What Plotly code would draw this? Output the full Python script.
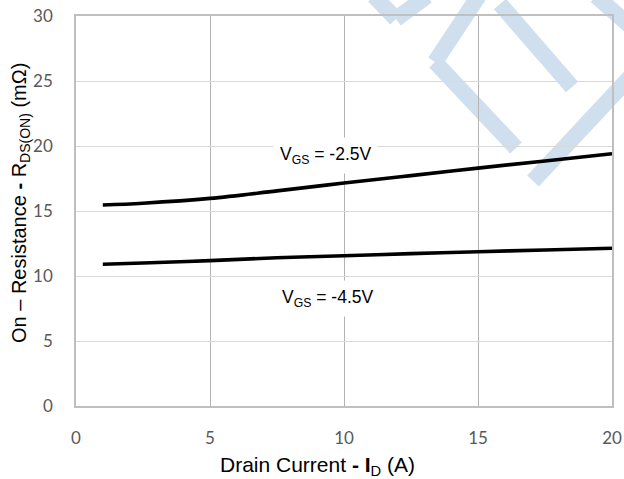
import plotly.graph_objects as go

# ---- data ----
drain_current = [1, 2.5, 5, 7.5, 10, 12.5, 15, 17.5, 20]
rds_vgs_25 = [15.46, 15.6, 15.97, 16.55, 17.15, 17.72, 18.3, 18.85, 19.4]
rds_vgs_45 = [10.9, 11.0, 11.18, 11.4, 11.56, 11.72, 11.87, 12.0, 12.13]
x_ticks = [0, 5, 10, 15, 20]
y_ticks = [0, 5, 10, 15, 20, 25, 30]

W, H = 624, 479
ML, MR, MT, MB = 76, 12, 16, 73
PW, PH = W - ML - MR, H - MT - MB


def px(xp, yp):
    return (xp - ML) / PW, (H - MB - yp) / PH


fig = go.Figure()
fig.add_trace(go.Scatter(x=drain_current, y=rds_vgs_25, mode="lines",
                         line=dict(color="black", width=3.6, shape="spline"),
                         showlegend=False, hoverinfo="skip"))
fig.add_trace(go.Scatter(x=drain_current, y=rds_vgs_45, mode="lines",
                         line=dict(color="black", width=3.6, shape="spline"),
                         showlegend=False, hoverinfo="skip"))

# faint watermark decoration
wm_color = "rgb(207,223,238)"
wm_paths = [
    [(374, -4), (396, 19), (427, -4)],
    [(480, -6), (435, 62), (516, 148)],
    [(500, 4), (572, 87)],
    [(596, -4), (630, 26)],
    [(632, 75), (533, 181)],
]
shapes = []
for path in wm_paths:
    for (x0, y0), (x1, y1) in zip(path[:-1], path[1:]):
        a0, b0 = px(x0, y0)
        a1, b1 = px(x1, y1)
        shapes.append(dict(type="line", xref="paper", yref="paper",
                           x0=a0, y0=b0, x1=a1, y1=b1, layer="below",
                           line=dict(color=wm_color, width=16)))

ann_font = dict(family="Liberation Sans, Arial, sans-serif", size=17.5, color="black")
title_font = dict(family="Liberation Sans, Arial, sans-serif", size=20, color="black")
xtitle_font = dict(family="Liberation Sans, Arial, sans-serif", size=21, color="black")
annotations = [
    dict(x=9.3, y=19.3, xref="x", yref="y", text="V<sub>GS</sub> = -2.5V",
         showarrow=False, bgcolor="white", borderpad=6, font=ann_font),
    dict(x=9.4, y=8.3, xref="x", yref="y", text="V<sub>GS</sub> = -4.5V",
         showarrow=False, bgcolor="white", borderpad=6, font=ann_font),
    dict(x=px(317, 0)[0], y=px(0, 466)[1], xref="paper", yref="paper",
         text="Drain Current <b>- I</b><sub>D</sub> (A)", showarrow=False,
         yanchor="middle", xanchor="center", font=xtitle_font),
    dict(x=px(21, 0)[0], y=px(0, 203)[1], xref="paper", yref="paper",
         text="On – Resistance <b>-</b> R<sub>DS(ON)</sub> (mΩ)", showarrow=False,
         textangle=-90, yanchor="middle", xanchor="center", font=title_font),
]

tick_font = dict(family="Lato, Open Sans, sans-serif", size=17, color="#595959")
fig.update_layout(
    width=W, height=H,
    margin=dict(l=ML, r=MR, t=MT, b=MB, autoexpand=False),
    paper_bgcolor="white", plot_bgcolor="rgba(0,0,0,0)",
    shapes=shapes, annotations=annotations,
    xaxis=dict(range=[0, 20], tickvals=x_ticks, showgrid=True, gridcolor="#b3b3b3",
               gridwidth=1.3, zeroline=False, showline=True, linecolor="#bfbfbf",
               linewidth=1.5, mirror=True, ticks="", tickfont=tick_font,
               ticklabelstandoff=16, fixedrange=True, automargin=False),
    yaxis=dict(range=[0, 30], tickvals=y_ticks, showgrid=True, gridcolor="#d9d9d9",
               gridwidth=1.3, zeroline=False, showline=True, linecolor="#bfbfbf",
               linewidth=1.5, mirror=True, ticks="", tickfont=tick_font,
               ticklabelstandoff=18, fixedrange=True, automargin=False),
)

fig.write_html("out.html")
